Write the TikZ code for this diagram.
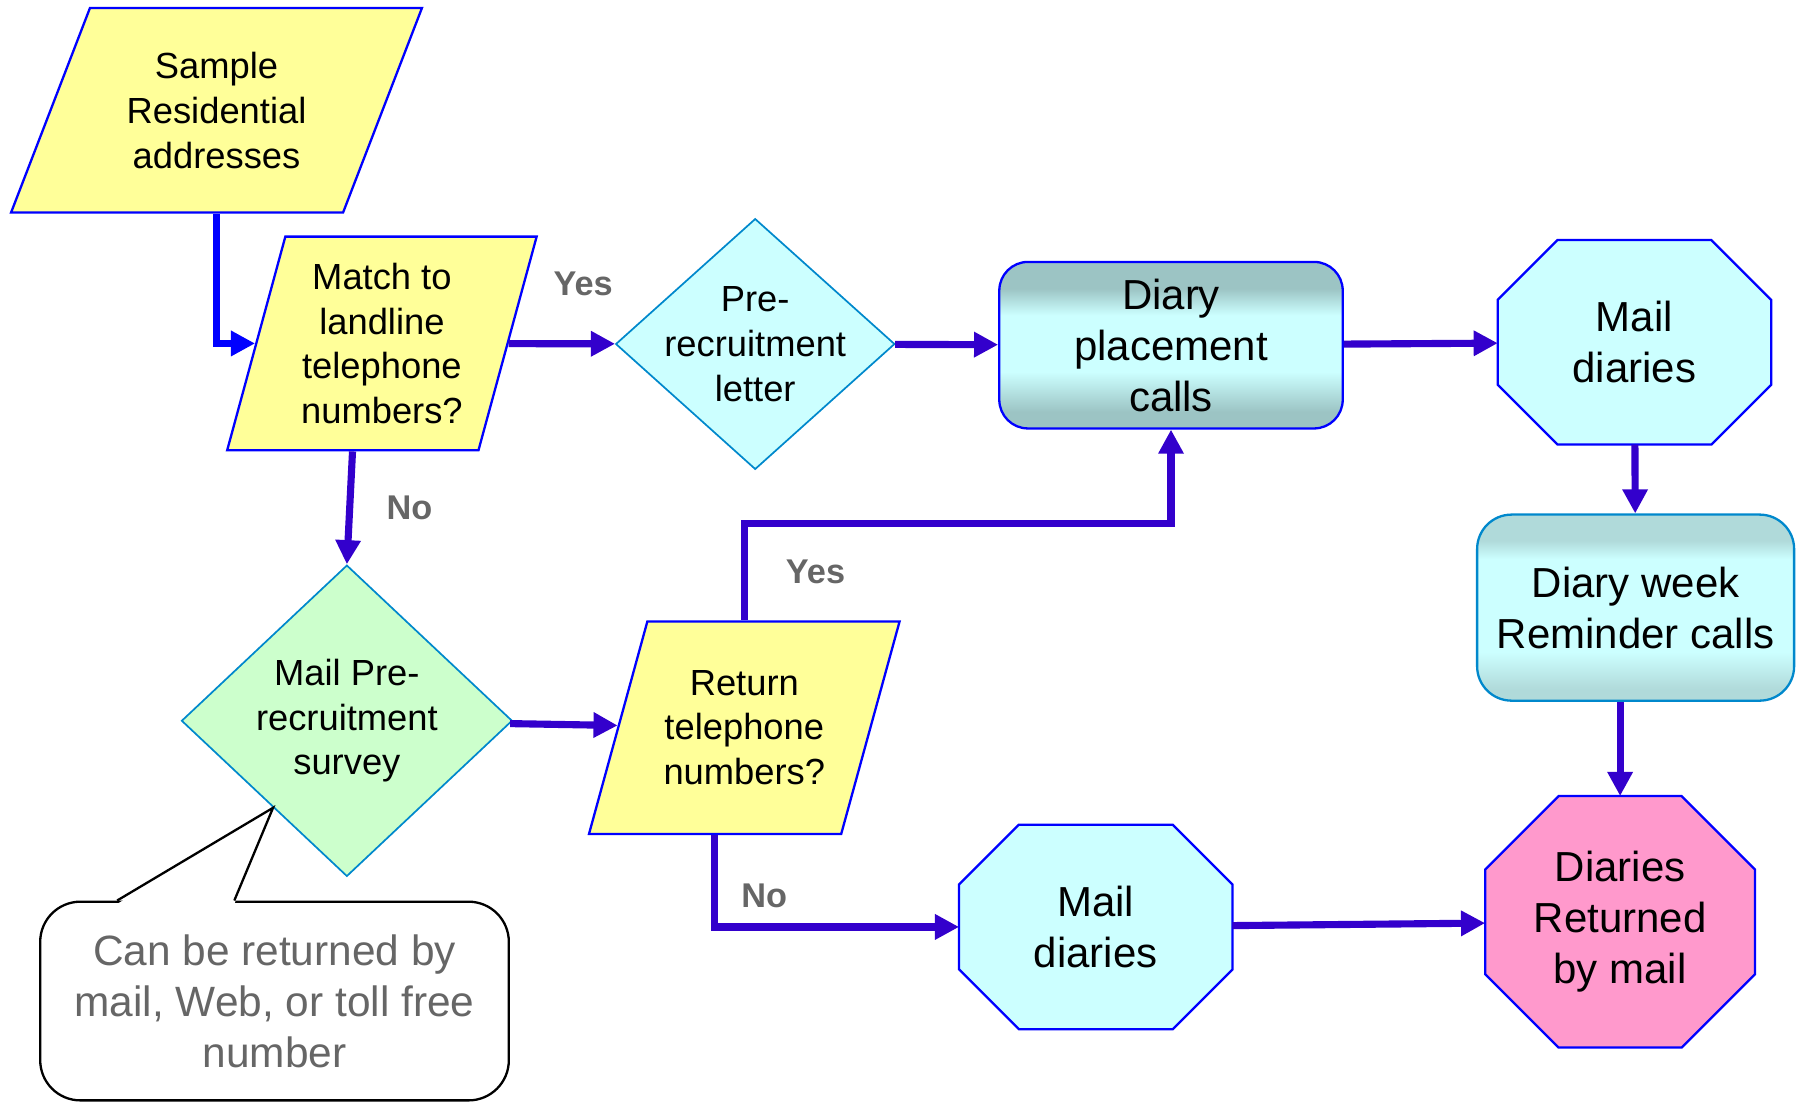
\documentclass[tikz,border=0pt]{standalone}
\usepackage{fontspec}
\setmainfont{Liberation Sans}
\usetikzlibrary{shapes.geometric,arrows.meta,calc,backgrounds}
\definecolor{boxblue}{HTML}{0000FF}
\definecolor{flowpurple}{HTML}{3300CC}
\definecolor{rimblue}{HTML}{0088CC}
\definecolor{paleyellow}{HTML}{FFFF99}
\definecolor{palecyan}{HTML}{CCFFFF}
\definecolor{palegreen}{HTML}{CCFFCC}
\definecolor{rosepink}{HTML}{FF99CC}
\definecolor{darkteal}{HTML}{9CC4C4}
\definecolor{softteal}{HTML}{B0DADA}
\definecolor{labelgray}{HTML}{666666}
\pgfdeclareverticalshading{placeshade}{100bp}{color(0bp)=(darkteal); color(30bp)=(darkteal); color(42bp)=(palecyan); color(59bp)=(palecyan); color(67bp)=(darkteal); color(100bp)=(darkteal)}
\pgfdeclareverticalshading{remindshade}{100bp}{color(0bp)=(softteal); color(28bp)=(softteal); color(38bp)=(palecyan); color(63bp)=(palecyan); color(68bp)=(softteal); color(100bp)=(softteal)}
% octagon drawn round a rectangular node
\newcommand{\octagon}[3]{%
  \filldraw[draw=boxblue, line width=0.02cm, fill=#3]
    ([xshift=#2]#1.north west) -- ([xshift=-#2]#1.north east) -- ([yshift=-#2]#1.north east)
    -- ([yshift=#2]#1.south east) -- ([xshift=-#2]#1.south east) -- ([xshift=#2]#1.south west)
    -- ([yshift=#2]#1.south west) -- ([yshift=-#2]#1.north west) -- cycle;}

\begin{document}
\begin{tikzpicture}[io/.style={trapezium, trapezium stretches=true, draw=boxblue, line width=0.02cm, fill=paleyellow, align=center, font=\fontsize{9}{11.1}\selectfont},
    ask/.style={diamond, draw=rimblue, line width=0.015cm, inner sep=-0.1cm, align=center, font=\fontsize{9}{11.1}\selectfont},
    call/.style={rectangle, rounded corners=0.25cm, line width=0.02cm, shade, align=center, font=\fontsize{10.4}{12.6}\selectfont},
    octa/.style={rectangle, outer sep=0pt, align=center, font=\fontsize{10.4}{12.6}\selectfont},
    flow/.style={-{Triangle[length=0.21cm,width=0.21cm]}, line width=0.062cm, color=flowpurple},
    lbl/.style={font=\fontsize{8.5}{10}\selectfont\bfseries, text=labelgray, inner sep=0pt}]
    \useasboundingbox (0,0) rectangle (15.68,-9.60);

    \node[io, minimum width=3.59cm, minimum height=1.78cm, trapezium left angle=65.8, trapezium right angle=114.2] (sample) at (1.885,-0.96) {Sample\\Residential\\addresses};
    \node[io, minimum width=2.71cm, minimum height=1.86cm, trapezium left angle=73.2, trapezium right angle=106.8] (match) at (3.325,-2.99) {Match to\\landline\\telephone\\numbers?};
    \node[ask, fill=palecyan, minimum width=2.43cm, minimum height=2.13cm] (letter) at (6.575,-2.995) {Pre-\\recruitment\\letter};
    \node[call, draw=boxblue, shading=placeshade, minimum width=2.99cm, minimum height=1.45cm] (placement) at (10.195,-3.005) {Diary\\placement\\calls};
    \node[octa, minimum width=2.38cm, minimum height=1.78cm] (mailA) at (14.23,-2.98) {Mail\\diaries};
    \node[call, draw=rimblue, rounded corners=0.3cm, shading=remindshade, minimum width=2.76cm, minimum height=1.62cm] (reminder) at (14.24,-5.29) {Diary week\\Reminder calls};
    \node[octa, minimum width=2.35cm, minimum height=2.19cm] (returned) at (14.105,-8.025) {Diaries\\Returned\\by mail};
    \node[octa, minimum width=2.38cm, minimum height=1.78cm] (mailB) at (9.54,-8.07) {Mail\\diaries};
    \node[ask, fill=palegreen, minimum width=2.88cm, minimum height=2.71cm] (survey) at (3.02,-6.275) {Mail Pre-\\recruitment\\survey};
    \node[io, minimum width=2.72cm, minimum height=1.85cm, trapezium left angle=68.2, trapezium right angle=111.8] (phone) at (6.48,-6.335) {Return\\telephone\\numbers?};
    \node[draw, fill=white, rounded corners=0.35cm, line width=0.02cm, minimum width=4.08cm, minimum height=1.73cm, align=center, text=labelgray, font=\fontsize{10.5}{12.6}\selectfont] (note) at (2.39,-8.715) {Can be returned by\\mail, Web, or toll free\\number};

    \begin{pgfonlayer}{background}
        \octagon{mailA}{0.52cm}{palecyan}
        \octagon{mailB}{0.52cm}{palecyan}
        \octagon{returned}{0.64cm}{rosepink}
    \end{pgfonlayer}

    % pointer of the note
    \coordinate (tip) at ($(survey.west)!0.556!(survey.south)$);
    \fill[white] ([xshift=0.68cm,yshift=-0.03cm]note.north west) -- (tip) -- ([xshift=1.70cm,yshift=-0.03cm]note.north west) -- cycle;
    \draw[line width=0.02cm] ([xshift=0.68cm]note.north west) -- (tip) -- ([xshift=1.70cm]note.north west);

    \draw[flow, draw=boxblue] (sample.center |- sample.south) |- (match.west);
    \path[flow]
        (match) edge node[lbl, pos=0.7, yshift=0.52cm] {Yes} (letter)
        (letter) edge (placement)
        (placement) edge (mailA)
        (mailA) edge (reminder)
        (reminder.south -| returned.north) edge (returned.north)
        (match.bottom side) edge node[lbl, midway, xshift=0.52cm] {No} (survey.north)
        (survey) edge (phone)
        (mailB) edge (returned)
        ;
    \draw[flow] (phone.center |- phone.north) -- node[lbl, midway, xshift=0.62cm] {Yes} ++(0,0.84) -| (placement.south);
    \draw[flow] (phone.bottom side) |- node[lbl, pos=0.33, xshift=0.43cm] {No} (mailB.west);
\end{tikzpicture}
\end{document}
